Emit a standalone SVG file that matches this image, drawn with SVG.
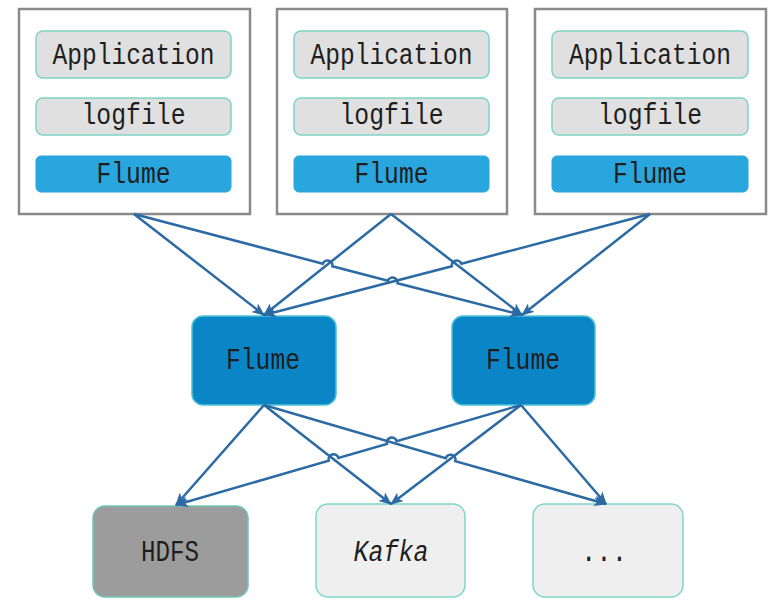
<svg xmlns="http://www.w3.org/2000/svg" width="776" height="608" viewBox="0 0 776 608">
<style>
.outer{fill:#ffffff;stroke:#8a8a8a;stroke-width:2.5}
.gray{fill:#e0e0e0;stroke:#7fd3c2;stroke-width:1.5}
.fl{fill:#29a6de;stroke:#29a6de;stroke-width:1}
.mid{fill:#0a86c7;stroke:#4fc3d6;stroke-width:1.5}
.hdfs{fill:#9c9c9c;stroke:#6cc7b3;stroke-width:1.5}
.light{fill:#efefef;stroke:#7fd8c4;stroke-width:1.5}
.t{font-family:"Liberation Mono","DejaVu Sans Mono",monospace;font-size:29px;fill:#1e1e1e;text-anchor:middle}
.conn path{fill:none;stroke:#2c6aa3;stroke-width:2.5;marker-end:url(#arr)}
</style>
<defs>
<marker id="arr" viewBox="0 0 12 10" refX="11" refY="5" markerWidth="13" markerHeight="11" markerUnits="userSpaceOnUse" orient="auto">
<path d="M0,0 L12,5 L0,10 L3,5 Z" fill="#2c6aa3"/>
</marker>
</defs>
<rect width="776" height="608" fill="#ffffff"/>
<g id="src1">
<rect class="outer" x="19" y="9" width="231" height="205"/>
<rect class="gray" x="36" y="31" width="195" height="47" rx="7"/>
<text class="t" x="133.5" y="64" textLength="162" lengthAdjust="spacingAndGlyphs">Application</text>
<rect class="gray" x="36" y="98" width="195" height="37" rx="7"/>
<text class="t" x="133.5" y="124" textLength="104" lengthAdjust="spacingAndGlyphs">logfile</text>
<rect class="fl" x="36" y="156" width="195" height="36" rx="5"/>
<text class="t" x="133.5" y="183" textLength="74" lengthAdjust="spacingAndGlyphs">Flume</text>
</g>
<g id="src2">
<rect class="outer" x="277" y="9" width="230" height="205"/>
<rect class="gray" x="294" y="31" width="195" height="47" rx="7"/>
<text class="t" x="391.5" y="64" textLength="162" lengthAdjust="spacingAndGlyphs">Application</text>
<rect class="gray" x="294" y="98" width="195" height="37" rx="7"/>
<text class="t" x="391.5" y="124" textLength="104" lengthAdjust="spacingAndGlyphs">logfile</text>
<rect class="fl" x="294" y="156" width="195" height="36" rx="5"/>
<text class="t" x="391.5" y="183" textLength="74" lengthAdjust="spacingAndGlyphs">Flume</text>
</g>
<g id="src3">
<rect class="outer" x="535" y="9" width="231" height="205"/>
<rect class="gray" x="552" y="31" width="196" height="47" rx="7"/>
<text class="t" x="650" y="64" textLength="162" lengthAdjust="spacingAndGlyphs">Application</text>
<rect class="gray" x="552" y="98" width="196" height="37" rx="7"/>
<text class="t" x="650" y="124" textLength="104" lengthAdjust="spacingAndGlyphs">logfile</text>
<rect class="fl" x="552" y="156" width="196" height="36" rx="5"/>
<text class="t" x="650" y="183" textLength="74" lengthAdjust="spacingAndGlyphs">Flume</text>
</g>
<g id="flume1">
<rect class="mid" x="192" y="316" width="144" height="89" rx="11"/>
<text class="t" x="263" y="369" textLength="74" lengthAdjust="spacingAndGlyphs">Flume</text>
</g>
<g id="flume2">
<rect class="mid" x="452" y="316" width="143" height="89" rx="11"/>
<text class="t" x="523" y="369" textLength="74" lengthAdjust="spacingAndGlyphs">Flume</text>
</g>
<g id="hdfs">
<rect class="hdfs" x="93" y="506" width="155" height="91" rx="12"/>
<text class="t" x="170" y="561" textLength="58" lengthAdjust="spacingAndGlyphs">HDFS</text>
</g>
<g id="kafka">
<rect class="light" x="316" y="504" width="149" height="93" rx="12"/>
<text class="t" x="391" y="561" font-style="italic" textLength="75" lengthAdjust="spacingAndGlyphs">Kafka</text>
</g>
<g id="other">
<rect class="light" x="533" y="504" width="150" height="93" rx="12"/>
<text class="t" x="604" y="561" textLength="46" lengthAdjust="spacingAndGlyphs">...</text>
</g>
<g class="conn" id="connectors">
<path d="M134,214 L264,315"/>
<path d="M134,214 L322.8,263.7 A5,5 0 0 1 332.4,266.3 L387.9,280.7 A5,5 0 0 1 397.5,283.3 L522,315"/>
<path d="M391,214 L264,315"/>
<path d="M391,214 L522,315"/>
<path d="M650,214 L461.4,263.7 A5,5 0 0 0 451.8,266.3 L264,315"/>
<path d="M650,214 L522,315"/>
<path d="M264,405 L176,505"/>
<path d="M264,405 L391,504"/>
<path d="M264,405 L445.7,458.3 A5,5 0 0 1 455.3,461.1 L606,504"/>
<path d="M521,405 L396.6,441.1 A5,5 0 0 0 387.0,443.9 L338.4,457.9 A5,5 0 0 0 328.8,460.7 L176,505"/>
<path d="M521,405 L391,504"/>
<path d="M521,405 L606,504"/>
</g>
</svg>
